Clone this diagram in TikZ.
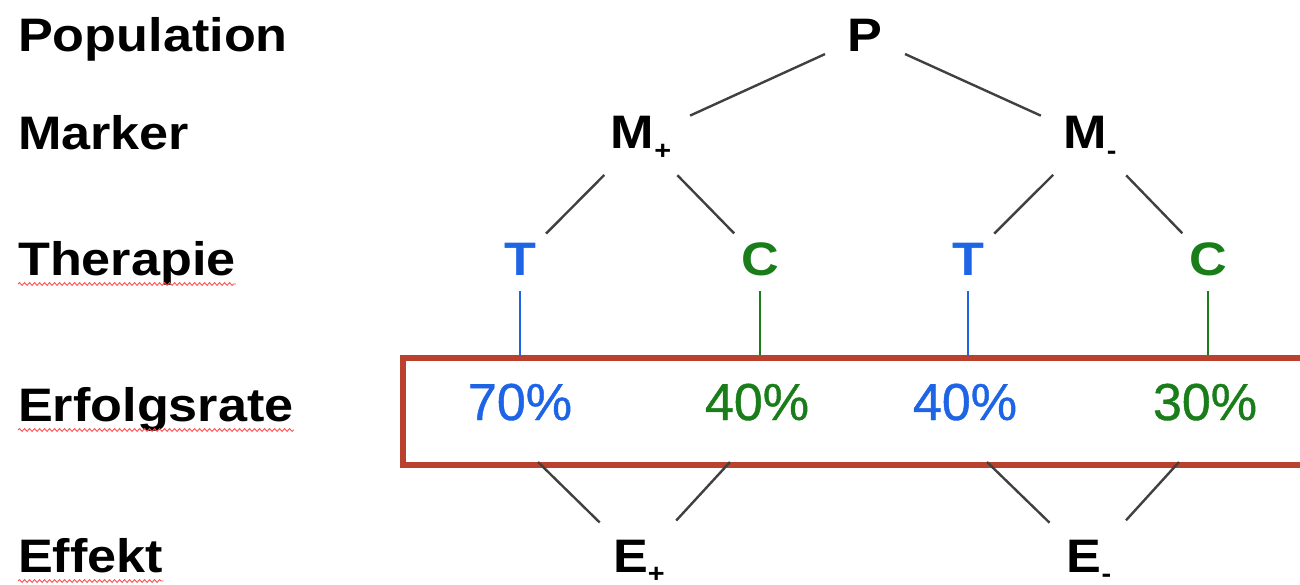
\documentclass[tikz,border=0pt]{standalone}
\usepackage{fontspec}
\setmainfont{Liberation Sans}[FakeStretch=1.11]
\newfontfamily\ratefont{Liberation Sans}[FakeBold=0.8]
\usetikzlibrary{positioning,decorations.pathmorphing}

\definecolor{tblue}{RGB}{30,100,230}
\definecolor{cgreen}{RGB}{25,125,25}
\definecolor{boxred}{RGB}{185,65,45}
\newcommand{\lowsub}[1]{\raisebox{-0.22em}{\fontsize{26}{26}\selectfont #1}}

\begin{document}
\begin{tikzpicture}[x=1pt,y=-1pt,
  lbl/.style={anchor=base west,inner sep=0pt,font=\fontsize{47}{56}\selectfont\bfseries},
  main node/.style={anchor=base,inner sep=0pt,font=\fontsize{47}{56}\selectfont\bfseries},
  rate/.style={anchor=base,inner sep=0pt,font=\fontsize{52}{60}\ratefont},
  tree/.style={draw=black!75,line width=2.4pt},
  stem/.style={line width=1.6pt,shorten <=31pt},
  wavy/.style={draw=red!70,line width=0.9pt,decorate,
    decoration={snake,amplitude=1.4pt,segment length=5pt}}]

   \useasboundingbox (0,0) rectangle (1300,585);

   % row labels
   \node[lbl] (pop)  at (18,52)  {Population};
   \node[lbl] (mark) at (18,150) {Marker};
   \node[lbl] (ther) at (18,275) {Therapie};
   \node[lbl] (erf)  at (18,421) {Erfolgsrate};
   \node[lbl] (eff)  at (18,572) {Effekt};
   \draw[wavy] ([yshift=-9pt]ther.base west) -- ([yshift=-9pt]ther.base east);
   \draw[wavy] ([yshift=-9pt]erf.base west)  -- ([yshift=-9pt]erf.base east);
   \draw[wavy] ([yshift=-9pt]eff.base west)  -- ([yshift=-9pt]eff.base east);

   % tree
   \node[main node]            (P)  at (865,52)  {P};
   \node[main node]            (Mp) at (641,149) {M\lowsub{+}};
   \node[main node]            (Mm) at (1090,149) {M\lowsub{-}};
   \node[main node,tblue]      (T1) at (520,276) {T};
   \node[main node,cgreen]     (C1) at (760,276) {C};
   \node[main node,tblue]      (T2) at (968,276) {T};
   \node[main node,cgreen]     (C2) at (1208,276) {C};

   % success rates
   \node[draw=boxred,line width=6pt,anchor=north west,inner sep=0pt,
     minimum width=915pt,minimum height=107pt] (box) at (400,355) {};
   \node[rate,tblue]  (R1) at (520,420)  {70\%};
   \node[rate,cgreen] (R2) at (757,420)  {40\%};
   \node[rate,tblue]  (R3) at (965,420)  {40\%};
   \node[rate,cgreen] (R4) at (1205,420) {30\%};

   % effect
   \node[main node] (Ep) at (639,572)  {E\lowsub{+}};
   \node[main node] (Em) at (1089,572) {E\lowsub{-}};
   \coordinate (b1) at (538,462);
   \coordinate (b2) at (730,462);
   \coordinate (b3) at (987,462);
   \coordinate (b4) at (1179,462);

   \path[tree]
    (P.center)  edge [shorten <=44pt,shorten >=54pt] (Mp.center)
                edge [shorten <=44pt,shorten >=54pt] (Mm.center)
    (Mp.center) edge [shorten <=52pt,shorten >=37pt] (T1.center)
                edge [shorten <=52pt,shorten >=37pt] (C1.center)
    (Mm.center) edge [shorten <=52pt,shorten >=37pt] (T2.center)
                edge [shorten <=52pt,shorten >=37pt] (C2.center)
    (b1)        edge [shorten >=55pt] (Ep.center)
    (b2)        edge [shorten >=55pt] (Ep.center)
    (b3)        edge [shorten >=55pt] (Em.center)
    (b4)        edge [shorten >=55pt] (Em.center);

   \draw[stem,tblue]  (T1.center) -- (T1 |- box.north);
   \draw[stem,cgreen] (C1.center) -- (C1 |- box.north);
   \draw[stem,tblue]  (T2.center) -- (T2 |- box.north);
   \draw[stem,cgreen] (C2.center) -- (C2 |- box.north);
\end{tikzpicture}
\end{document}
